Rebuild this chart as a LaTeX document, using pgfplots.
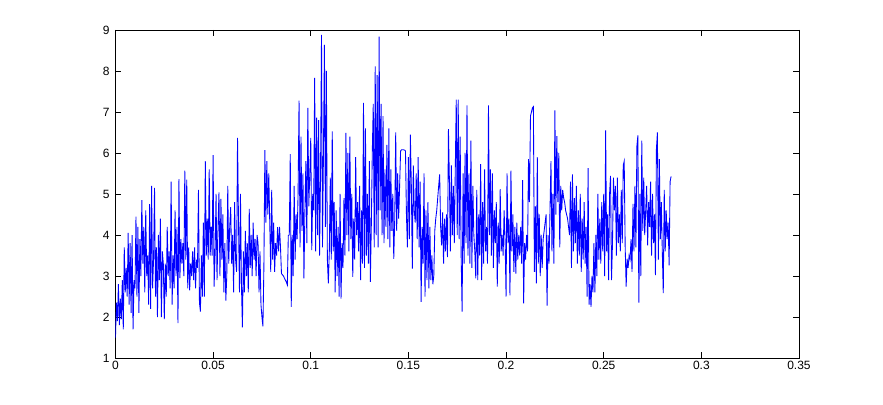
\documentclass[border=0pt]{standalone}
\usepackage{pgfplots}
\pgfplotsset{compat=1.18}
\usepackage{pgfplotstable}
\usepackage{fontspec}
\setmainfont{Liberation Sans}
\pgfplotstableread{
y
1.5
2.35
1.9
2.8
1.8
2.45
1.95
2.9
1.7
3.7
2.6
3.2
2.5
4.05
2.3
3.8
2.1
4.0
1.7
2.9
2.7
4.45
2.5
4.2
2.1
3.9
3.0
4.85
3.3
4.2
2.6
4.6
3.0
3.5
2.3
4.75
2.2
5.2
2.7
3.4
5.15
2.5
3.7
2.0
4.0
2.9
4.4
2.0
3.6
3.3
1.95
3.3
2.5
4.2
3.0
3.6
2.7
5.3
2.3
3.5
2.7
4.6
3.0
4.2
1.85
5.36
2.95
3.9
3.3
3.8
3.0
5.57
3.4
5.35
2.7
3.7
2.65
3.3
3.0
3.6
2.9
3.7
2.7
3.4
3.2
5.1
2.35
2.13
3.5
2.5
4.3
2.5
5.8
3.5
4.4
3.4
5.6
3.5
4.2
3.5
5.95
2.74
3.5
5.0
2.9
4.2
5.04
3.0
4.88
3.4
4.5
2.6
3.8
2.4
3.0
5.2
3.3
4.2
4.68
3.3
4.0
2.6
4.8
3.4
3.1
6.37
4.3
2.6
5.0
2.8
1.75
3.6
2.6
4.1
3.0
3.8
2.6
4.64
3.2
4.0
3.0
4.3
3.4
3.9
3.0
4.0
3.8
2.6
3.6
2.3
2.0
1.77
3.22
6.07
4.3
5.8
4.5
5.5
4.3
3.1
5.1
3.4
4.3
3.1
3.8
3.5
4.19
3.6
4.2
3.7
3.06
3.03
3.0
2.95
2.9
2.85
2.78
3.99
4.0
5.97
2.25
4.0
3.0
5.2
3.4
4.5
3.9
5.0
7.28
3.7
6.4
4.1
5.5
2.94
4.6
5.8
3.8
7.1
4.7
5.5
6.37
3.63
5.0
4.6
7.83
3.6
6.86
4.0
6.8
3.5
5.5
8.88
3.7
6.0
8.64
4.2
8.0
3.4
2.82
3.6
5.4
3.4
6.53
3.6
4.8
2.6
4.6
3.0
4.2
2.5
5.0
2.45
3.8
3.2
4.9
3.5
6.49
4.0
6.0
3.6
6.4
3.9
5.0
2.98
4.4
3.4
5.9
4.0
4.8
3.6
5.2
2.9
4.6
3.3
7.22
3.2
6.6
3.5
5.0
3.3
5.8
2.86
4.2
6.0
7.2
3.7
8.11
4.0
7.9
3.7
8.84
4.6
7.2
4.0
6.9
3.8
5.6
4.2
6.2
3.9
6.6
3.7
5.6
4.1
5.0
3.42
4.4
6.5
4.1
5.5
4.4
5.2
6.05
6.08
6.08
6.08
6.07
6.05
4.47
3.7
5.9
3.9
6.45
5.2
3.18
5.7
4.6
4.3
5.5
3.9
5.9
3.7
5.3
2.37
4.2
3.3
5.5
2.5
4.6
2.9
4.8
2.7
4.2
2.9
3.5
2.8
3.0
4.1
4.4
4.6
4.9
5.2
5.48
4.2
3.75
4.55
3.3
4.4
3.6
4.5
3.46
6.58
5.3
3.6
5.7
4.0
5.2
3.8
5.6
7.3
4.0
7.3
3.9
6.4
3.5
2.13
5.5
3.3
6.0
3.8
7.16
3.5
5.5
3.3
6.3
3.2
5.2
4.0
3.6
2.94
5.1
2.9
4.5
3.5
5.73
2.9
4.8
3.3
5.6
3.6
4.2
3.3
7.16
4.0
5.6
3.5
5.5
3.2
4.6
3.8
4.8
2.74
4.3
3.3
5.12
3.6
4.0
3.5
4.6
3.9
2.5
5.5
3.8
4.4
2.53
5.57
3.6
4.5
3.1
4.2
3.06
4.3
3.4
4.0
3.5
4.2
3.3
5.34
2.33
3.8
3.4
4.0
3.6
5.85
4.8
6.9
7.0
7.1
7.13
3.1
4.7
2.82
5.9
3.3
4.5
3.0
4.0
3.2
3.9
4.1
4.3
4.5
2.28
4.0
3.3
4.6
5.8
3.6
5.0
3.3
7.04
4.5
6.41
4.8
6.0
3.7
5.2
4.6
5.1
4.9
4.8
4.6
4.5
4.4
4.2
4.0
5.3
3.2
5.48
3.6
4.9
3.8
5.2
3.3
4.6
3.5
5.0
3.1
4.4
3.4
4.8
3.3
4.2
2.5
5.63
2.3
2.8
2.25
3.0
2.6
3.8
2.6
4.0
3.0
5.0
3.4
4.4
3.3
4.8
3.6
5.0
3.0
6.55
3.6
4.5
2.9
5.0
5.44
2.9
3.8
5.4
4.6
5.2
3.5
5.4
3.8
4.5
3.6
5.1
3.8
5.7
5.8
3.7
2.74
3.42
3.2
3.5
3.4
3.9
3.1
4.76
3.6
5.2
3.7
6.17
6.43
2.35
5.0
3.0
6.3
4.1
5.4
4.0
4.6
5.2
3.75
4.8
4.2
5.3
3.5
5.0
3.8
4.5
3.02
6.1
6.5
3.4
5.85
3.9
4.8
3.6
2.58
5.1
3.6
4.6
3.9
4.3
3.26
5.3
5.43
}\signal
\begin{document}
\begin{tikzpicture}
\begin{axis}[
  scale only axis,
  width=512.6pt, height=246pt,
  xmin=0, xmax=0.35, ymin=1, ymax=9,
  xtick={0,0.05,0.1,0.15,0.2,0.25,0.3,0.35},
  xticklabels={0,0.05,0.1,0.15,0.2,0.25,0.3,0.35},
  ytick={1,2,3,4,5,6,7,8,9},
  /pgf/number format/assume math mode=true,
  tick align=inside,
  major tick length=4.5pt,
  tick style={black, line width=0.6pt},
  axis line style={black, line width=0.6pt},
  ticklabel style={font=\fontsize{9}{10}\selectfont},
  xticklabel style={yshift=1pt},
  yticklabel style={xshift=-1pt},
  clip=true,
]
\addplot[color={rgb,255:red,0;green,0;blue,255}, line width=0.65pt, mark=none]
  table[x expr=\coordindex*0.0005, y=y] {\signal};
\coordinate (bl) at (rel axis cs:0,0);
\coordinate (tr) at (rel axis cs:1,1);
\end{axis}
\pgfresetboundingbox
\path ([shift={(-86.6pt,-34.5pt)}]bl) rectangle ([shift={(63pt,22.5pt)}]tr);
\end{tikzpicture}
\end{document}
